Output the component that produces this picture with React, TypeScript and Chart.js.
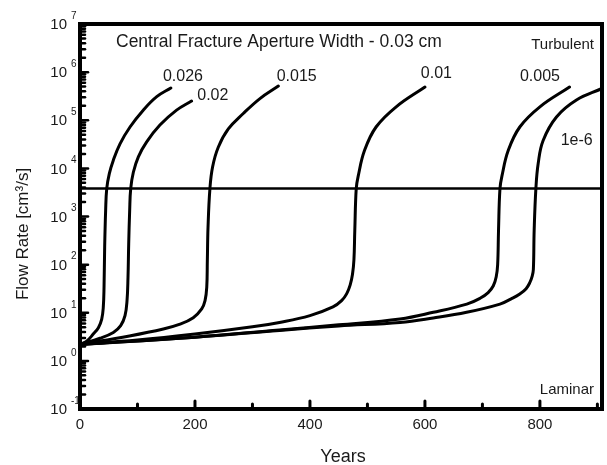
import React, { useEffect, useRef } from "react";
import { Chart, registerables } from "chart.js";

Chart.register(...registerables);

// ---- data (years, flow rate cm^3/s) ----
const years026 = [0, 11.6, 23, 32, 37.8, 40.5, 41.8, 42.9, 44.6, 46.5, 51, 58, 69.6, 87, 110, 133.5, 158];
const flow026 = [2.2, 2.57, 3.6, 4.9, 7.4, 12.9, 34, 229, 1330, 3800, 7760, 14800, 32400, 72400, 162000, 309000, 468000];

const years020 = [0, 34.8, 58, 70.8, 78.3, 81.8, 83.5, 84.7, 86.4, 88.2, 92.8, 101.5, 116, 139, 168, 194];
const flow020 = [2.2, 2.95, 3.9, 5.4, 8.7, 17.8, 55, 269, 1330, 3800, 8300, 17400, 35500, 79400, 162000, 251000];

const years015 = [0, 86, 145, 174, 197, 211.7, 217.5, 220.5, 221.5, 222.7, 226, 230.6, 240.5, 258, 284, 313, 345];
const flow015 = [2.2, 3.3, 4.6, 5.8, 7.9, 12, 17.8, 34, 120, 600, 3800, 10700, 27500, 66000, 138000, 282000, 513000];

const years010 = [0, 100, 200, 300, 347, 400, 440, 455, 464, 470, 474, 476.5, 478, 480.5, 484, 495, 515, 550, 600];
const flow010 = [2.2, 2.7, 3.6, 5.1, 6.3, 8.7, 13.2, 17.8, 25, 38, 63, 126, 513, 3800, 7000, 23700, 72400, 190000, 490000];

const years005 = [0, 200, 347, 450, 556.6, 614.6, 672.8, 695.9, 710, 719, 724, 726.5, 728, 730.5, 734, 745, 765, 800, 851.5];
const flow005 = [2.2, 3.1, 4.4, 5.6, 7.4, 10.2, 15.1, 20, 26.3, 36.3, 56, 100, 513, 3800, 7000, 23700, 72400, 190000, 490000];

const years1e6 = [0, 200, 347, 450, 556.6, 614.5, 672.5, 730.5, 750, 765, 776, 782.6, 786.6, 788.6, 790, 793, 797, 805.6, 828.8, 863.6, 908];
const flow1e6 = [2.2, 3.1, 4.3, 5.3, 6.3, 7.8, 10.2, 15.1, 19.5, 24.5, 31.6, 42.7, 57.5, 79, 513, 3800, 12600, 38000, 117000, 263000, 457000];

const thresholdYears = [0, 908];
const thresholdFlow = [3800, 3800];

const xTickValues = [100, 200, 300, 400, 500, 600, 700, 800, 900];
const xLabelValues = [0, 200, 400, 600, 800];
const xLabels = ["0", "200", "400", "600", "800"];
const yExponents = [-1, 0, 1, 2, 3, 4, 5, 6, 7];
const yExponentLabels = ["-1", "0", "1", "2", "3", "4", "5", "6", "7"];

const seriesNames = ["0.026", "0.02", "0.015", "0.01", "0.005", "1e-6"];
// label anchors: [year, flow] where each label text is centred
const seriesLabelYears = [179, 231, 377, 620, 800, 864];
const seriesLabelFlows = [790000, 330000, 800000, 950000, 790000, 38000];

const FONT = "'Liberation Sans', Arial, sans-serif";
const TEXT = "#1a1a1a";

function pts(xs: number[], ys: number[]) {
  return xs.map((x, i) => ({ x, y: ys[i] }));
}

const decorPlugin = {
  id: "decor",
  afterDraw(chart: any) {
    const { ctx, chartArea } = chart;
    const xs = chart.scales.x;
    const ys = chart.scales.y;
    const { left, right, top, bottom } = chartArea;
    ctx.save();
    ctx.strokeStyle = "#000";
    ctx.fillStyle = "#000";
    // frame
    ctx.lineWidth = 4;
    ctx.strokeRect(left, top, right - left, bottom - top);
    // x ticks (inward)
    ctx.lineWidth = 3;
    ctx.lineCap = "round";
    xTickValues.forEach((v) => {
      const px = xs.getPixelForValue(v);
      const len = v % 200 === 0 ? 8 : 5;
      ctx.beginPath();
      ctx.moveTo(px, bottom);
      ctx.lineTo(px, bottom - len);
      ctx.stroke();
    });
    // y ticks (inward)
    ctx.lineWidth = 2.5;
    yExponents.forEach((e) => {
      if (e === 7) return;
      for (let m = 1; m <= 9; m++) {
        const val = m * Math.pow(10, e);
        const py = ys.getPixelForValue(val);
        const len = m === 1 ? 8 : 5;
        ctx.beginPath();
        ctx.moveTo(left, py);
        ctx.lineTo(left + len, py);
        ctx.stroke();
      }
    });
    // x labels
    ctx.fillStyle = TEXT;
    ctx.font = `15px ${FONT}`;
    ctx.textAlign = "center";
    ctx.textBaseline = "middle";
    xLabelValues.forEach((v, i) => {
      ctx.fillText(xLabels[i], xs.getPixelForValue(v), 425);
    });
    // y labels with superscripts
    yExponents.forEach((e, i) => {
      const py = ys.getPixelForValue(Math.pow(10, e));
      ctx.font = `15px ${FONT}`;
      ctx.textAlign = "right";
      ctx.textBaseline = "middle";
      ctx.fillText("10", 67, py + 1);
      ctx.font = `10px ${FONT}`;
      ctx.textAlign = "left";
      ctx.fillText(yExponentLabels[i], 71, py - 8);
    });
    // axis titles
    ctx.font = `18px ${FONT}`;
    ctx.textAlign = "center";
    ctx.textBaseline = "middle";
    ctx.fillText("Years", (left + right) / 2 + 2, 457);
    ctx.save();
    ctx.translate(23, 234);
    ctx.rotate(-Math.PI / 2);
    ctx.font = `17px ${FONT}`;
    ctx.fillText("Flow Rate [cm³/s]", 0, 0);
    ctx.restore();
    // annotations
    ctx.font = `17.5px ${FONT}`;
    ctx.textAlign = "left";
    ctx.fillText("Central Fracture Aperture Width - 0.03 cm", 116, 42);
    ctx.font = `15px ${FONT}`;
    ctx.textAlign = "right";
    ctx.fillText("Turbulent", 594, 45);
    ctx.fillText("Laminar", 594, 390);
    ctx.font = `16px ${FONT}`;
    ctx.textAlign = "center";
    seriesNames.forEach((n, i) => {
      ctx.fillText(n, xs.getPixelForValue(seriesLabelYears[i]), ys.getPixelForValue(seriesLabelFlows[i]));
    });
    ctx.restore();
  },
};

export default function App() {
  const ref = useRef<HTMLCanvasElement | null>(null);
  useEffect(() => {
    document.body.style.margin = "0";
    document.body.style.overflow = "hidden";
    if (!ref.current) return;
    const line = (xs: number[], ys: number[], w = 3, tension = 0.4) => ({
      data: pts(xs, ys),
      borderColor: "#000",
      borderWidth: w,
      pointRadius: 0,
      fill: false,
      tension,
      borderCapStyle: "round" as const,
      borderJoinStyle: "round" as const,
    });
    const chart = new Chart(ref.current, {
      type: "line",
      data: {
        datasets: [
          line(years026, flow026),
          line(years020, flow020),
          line(years015, flow015),
          line(years010, flow010),
          line(years005, flow005),
          line(years1e6, flow1e6),
          line(thresholdYears, thresholdFlow, 2.5, 0),
        ],
      },
      options: {
        animation: false,
        responsive: true,
        maintainAspectRatio: false,
        layout: { padding: { top: 24, right: 5, left: 0, bottom: 0 } },
        plugins: { legend: { display: false }, tooltip: { enabled: false } },
        scales: {
          x: {
            type: "linear",
            min: 0,
            max: 908,
            grid: { display: false },
            border: { display: false },
            ticks: { display: false },
            afterFit: (s: any) => {
              s.height = 56;
            },
          },
          y: {
            type: "logarithmic",
            min: 0.1,
            max: 1e7,
            grid: { display: false },
            border: { display: false },
            ticks: { display: false },
            afterFit: (s: any) => {
              s.width = 80;
            },
          },
        },
      },
      plugins: [decorPlugin],
    });
    return () => chart.destroy();
  }, []);
  return (
    <div style={{ width: 607, height: 465, position: "relative", background: "#fff" }}>
      <canvas ref={ref} />
    </div>
  );
}
